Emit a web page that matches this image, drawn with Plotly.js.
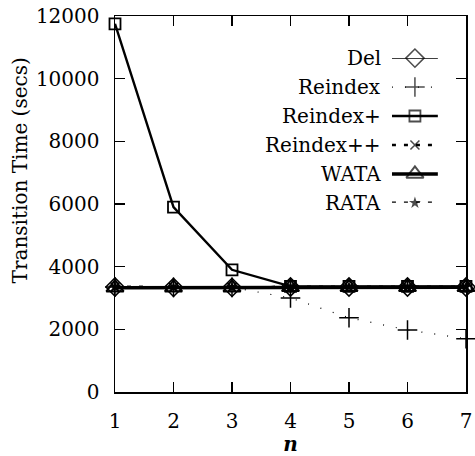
<!DOCTYPE html>
<html>
<head>
<meta charset="utf-8">
<script src="https://cdn.plot.ly/plotly-3.0.1.min.js"></script>
<style>html,body{margin:0;padding:0;background:#fff;}#chart{width:475px;height:456px;}</style>
</head>
<body>
<div id="chart"></div>
<script>
// Data
const nValues = [1, 2, 3, 4, 5, 6, 7];
const seriesNames = ["Del", "Reindex", "Reindex+", "Reindex++", "WATA", "RATA"];
const delTimes = [3350, 3340, 3340, 3350, 3350, 3350, 3350];
const reindexTimes = [3350, 3340, 3340, 3000, 2370, 1980, 1700];
const reindexPlusTimes = [11750, 5900, 3900, 3370, 3370, 3370, 3370];
const reindexPPTimes = [3350, 3340, 3340, 3350, 3350, 3350, 3350];
const wataTimes = [3330, 3330, 3330, 3340, 3340, 3340, 3340];
const rataTimes = [3350, 3340, 3340, 3350, 3350, 3350, 3350];
const yTicks = [0, 2000, 4000, 6000, 8000, 10000, 12000];
const yTickLabels = ["0", "2000", "4000", "6000", "8000", "10000", "12000"];

const seriesValues = [delTimes, reindexTimes, reindexPlusTimes, reindexPPTimes, wataTimes, rataTimes];
const styles = [
  {symbol: "diamond-open", size: 14, mw: 1.5, lw: 1.2, dash: "solid"},
  {symbol: "cross-thin-open", size: 14, mw: 1.5, lw: 1.2, dash: "1px,12px"},
  {symbol: "square-open", size: 11, mw: 1.8, lw: 2.4, dash: "solid"},
  {symbol: "x-thin-open", size: 9, mw: 1.6, lw: 2.5, dash: "4px,8px"},
  {symbol: "triangle-up-open", size: 15, mw: 2, lw: 3.5, dash: "solid"},
  {symbol: "star", size: 9, mw: 0, lw: 2.5, dash: "4px,8px"}
];

const FONT = '"DejaVu Serif", "Liberation Serif", serif';
const traces = [];
seriesNames.forEach((name, i) => {
  const s = styles[i];
  traces.push({
    x: nValues, y: seriesValues[i], name: name, type: "scatter", mode: "lines+markers",
    cliponaxis: false, showlegend: false,
    line: {color: "#000", width: s.lw, dash: s.dash},
    marker: {symbol: s.symbol, size: s.size, color: "#000", line: {color: "#000", width: s.mw}}
  });
});
// legend samples on an overlay axis
const annotations = [];
seriesNames.forEach((name, i) => {
  const s = styles[i];
  traces.push({
    x: [0, 1, 2], y: [i, i, i], xaxis: "x2", yaxis: "y2", type: "scatter", mode: "lines+markers",
    showlegend: false, cliponaxis: false, hoverinfo: "skip",
    line: {color: "#000", width: s.lw, dash: s.dash},
    marker: {symbol: s.symbol, size: [0, s.size, 0], color: "#000", line: {color: "#000", width: s.mw}}
  });
  annotations.push({
    xref: "paper", yref: "y2", x: 0.7635, y: i, xanchor: "right", yanchor: "middle",
    text: name, showarrow: false, font: {family: FONT, size: 20, color: "#000"}
  });
});
annotations.push({
  xref: "paper", yref: "paper", x: -0.27, y: 0.59, xanchor: "center", yanchor: "middle",
  text: "Transition Time (secs)", textangle: -90, showarrow: false,
  font: {family: FONT, size: 20, color: "#000"}
});

const layout = {
  width: 475, height: 456,
  margin: {l: 115, r: 9, t: 16, b: 64},
  paper_bgcolor: "#fff", plot_bgcolor: "#fff",
  showlegend: false,
  font: {family: FONT, size: 20, color: "#000"},
  xaxis: {
    range: [1, 7], tickvals: nValues, ticks: "inside", ticklen: 10, tickwidth: 1.2, tickcolor: "#000",
    showline: true, linecolor: "#000", linewidth: 1.5, mirror: "ticks", showgrid: false, zeroline: false,
    automargin: false, ticklabelstandoff: 10,
    tickfont: {family: FONT, size: 20, color: "#000"},
    title: {text: "<b><i>n</i></b>", font: {family: FONT, size: 20, color: "#000"}, standoff: 7}
  },
  yaxis: {
    range: [0, 12000], tickvals: yTicks, ticktext: yTickLabels, ticks: "inside", ticklen: 10, tickwidth: 1.2, tickcolor: "#000",
    showline: true, linecolor: "#000", linewidth: 1.5, mirror: "ticks", showgrid: false, zeroline: false,
    automargin: false, ticklabelstandoff: 10,
    tickfont: {family: FONT, size: 20, color: "#000"}
  },
  xaxis2: {domain: [0.789, 0.92], range: [0, 2], anchor: "y2", visible: false, fixedrange: true},
  yaxis2: {domain: [0.503, 0.888], range: [5, 0], anchor: "x2", visible: false, fixedrange: true},
  annotations: annotations
};

Plotly.newPlot("chart", traces, layout, {staticPlot: true, displayModeBar: false});
</script>
</body>
</html>
